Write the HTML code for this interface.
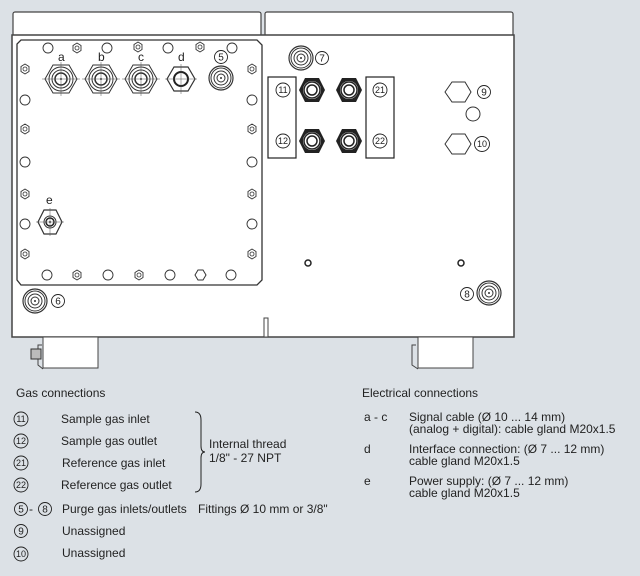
<!DOCTYPE html>
<html><head><style>
body{margin:0;background:#dce1e6;}
svg{display:block}
text{font-family:"Liberation Sans",sans-serif;fill:#222;}
.cn circle{fill:none;stroke:#222;stroke-width:0.9}
.cn text{font-size:10px;text-anchor:middle}
.cn text.s{font-size:9px}
</style></head><body>
<svg width="640" height="576" viewBox="0 0 640 576" xmlns="http://www.w3.org/2000/svg">
<defs>
<g id="hexb"><polygon points="-4,-2.5 0,-5 4,-2.5 4,2.5 0,5 -4,2.5" fill="#fff" stroke="#333" stroke-width="0.9"/><circle r="2" fill="none" stroke="#333" stroke-width="0.8"/></g>
<g id="hole"><circle r="5" fill="#fff" stroke="#333" stroke-width="0.9"/></g>
<g id="gland"><polygon points="-16,0 -8,-14 8,-14 16,0 8,14 -8,14" fill="#fff" stroke="#333" stroke-width="1"/><circle r="12" fill="none" stroke="#333"/><circle r="9" fill="none" stroke="#333"/><circle r="6" fill="none" stroke="#333" stroke-width="1.5"/><circle r="1" fill="#333"/><line x1="-19" y1="0" x2="19" y2="0" stroke="#555" stroke-width="0.5"/><line x1="0" y1="-17" x2="0" y2="17" stroke="#555" stroke-width="0.5"/></g>
<g id="fit"><circle r="12" fill="#fff" stroke="#333" stroke-width="1.2"/><circle r="10" fill="none" stroke="#333"/><circle r="7" fill="none" stroke="#333"/><circle r="4" fill="none" stroke="#333"/><circle r="1" fill="#333"/></g>
<g id="blk"><polygon points="-13,0 -7,-12 7,-12 13,0 7,12 -7,12" fill="#222"/><circle r="9" fill="#fff"/><circle r="8" fill="none" stroke="#222" stroke-width="1.5"/><circle r="5" fill="none" stroke="#222" stroke-width="1.5"/></g>
</defs>
<rect x="13" y="12" width="248" height="24" rx="2" fill="#fff" stroke="#444" stroke-width="1.2"/>
<rect x="265" y="12" width="248" height="24" rx="2" fill="#fff" stroke="#444" stroke-width="1.2"/>
<rect x="12" y="35" width="502" height="302" fill="#fff" stroke="#444" stroke-width="1.5"/>
<polygon points="21,40 257,40 262,45 262,280 257,285 21,285 17,280 17,44" fill="#fff" stroke="#333" stroke-width="1.3"/>
<use href="#hole" x="48" y="48"/><use href="#hexb" x="77" y="48"/><use href="#hole" x="107" y="48"/><use href="#hexb" x="138" y="47"/><use href="#hole" x="168" y="48"/><use href="#hexb" x="200" y="47"/><use href="#hole" x="232" y="48"/>
<use href="#hexb" x="25" y="69"/><use href="#hole" x="25" y="100"/><use href="#hexb" x="25" y="129"/><use href="#hole" x="25" y="162"/><use href="#hexb" x="25" y="194"/><use href="#hole" x="25" y="224"/><use href="#hexb" x="25" y="254"/>
<use href="#hexb" x="252" y="69"/><use href="#hole" x="252" y="100"/><use href="#hexb" x="252" y="129"/><use href="#hole" x="252" y="162"/><use href="#hexb" x="252" y="194"/><use href="#hole" x="252" y="224"/><use href="#hexb" x="252" y="254"/>
<use href="#hole" x="47" y="275"/><use href="#hexb" x="77" y="275"/><use href="#hole" x="108" y="275"/><use href="#hexb" x="139" y="275"/><use href="#hole" x="170" y="275"/><polygon points="195,275 198,270 203,270 206,275 203,280 198,280" fill="#fff" stroke="#333"/><use href="#hole" x="231" y="275"/>
<use href="#gland" x="61" y="79"/><use href="#gland" x="101" y="79"/><use href="#gland" x="141" y="79"/>
<g transform="translate(181,79)"><polygon points="-14,0 -7,-12 7,-12 14,0 7,12 -7,12" fill="#fff" stroke="#333" stroke-width="1.2"/><circle r="7" fill="none" stroke="#222" stroke-width="2"/><line x1="-16" y1="0" x2="16" y2="0" stroke="#555" stroke-width="0.5"/><line x1="0" y1="-15" x2="0" y2="15" stroke="#555" stroke-width="0.5"/></g>
<use href="#fit" x="221" y="78"/>
<g transform="translate(50,222)"><polygon points="-12,0 -6,-12 6,-12 12,0 6,12 -6,12" fill="#fff" stroke="#333" stroke-width="1.2"/><circle r="6" fill="none" stroke="#333"/><circle r="4" fill="none" stroke="#222" stroke-width="1.5"/><circle r="1" fill="#333"/><line x1="-14" y1="0" x2="14" y2="0" stroke="#555" stroke-width="0.5"/><line x1="0" y1="-14" x2="0" y2="14" stroke="#555" stroke-width="0.5"/></g>
<text x="58" y="61" font-size="12">a</text><text x="98" y="61" font-size="12">b</text><text x="138" y="61" font-size="12">c</text><text x="178" y="61" font-size="12">d</text><text x="46" y="204" font-size="12">e</text>
<use href="#fit" x="301" y="58"/>
<use href="#fit" x="35" y="301"/>
<use href="#fit" x="489" y="293"/>
<g class="cn">
<circle cx="221" cy="57" r="6.5"/><text x="221" y="60.5">5</text>
<circle cx="322" cy="58" r="6.5"/><text x="322" y="61.5">7</text>
<circle cx="283" cy="90" r="7"/><text class="s" x="283" y="93">11</text>
<circle cx="283" cy="141" r="7"/><text class="s" x="283" y="144">12</text>
<circle cx="380" cy="90" r="7"/><text class="s" x="380" y="93">21</text>
<circle cx="380" cy="141" r="7"/><text class="s" x="380" y="144">22</text>
<circle cx="484" cy="92" r="6.5"/><text x="484" y="95.5">9</text>
<circle cx="482" cy="144" r="7.5"/><text class="s" x="482" y="147">10</text>
<circle cx="58" cy="301" r="6.5"/><text x="58" y="304.5">6</text>
<circle cx="467" cy="294" r="6.5"/><text x="467" y="297.5">8</text>
<circle cx="21" cy="419" r="7"/><text class="s" x="21" y="422">11</text>
<circle cx="21" cy="441" r="7"/><text class="s" x="21" y="444">12</text>
<circle cx="21" cy="463" r="7"/><text class="s" x="21" y="466">21</text>
<circle cx="21" cy="485" r="7"/><text class="s" x="21" y="488">22</text>
<circle cx="21" cy="509" r="6.5"/><text x="21" y="512.5">5</text>
<circle cx="45" cy="509" r="6.5"/><text x="45" y="512.5">8</text>
<circle cx="21" cy="531" r="6.5"/><text x="21" y="534.5">9</text>
<circle cx="21" cy="554" r="7"/><text class="s" x="21" y="557">10</text>
</g>
<rect x="268" y="77" width="28" height="81" fill="none" stroke="#222" stroke-width="1.2"/>
<rect x="366" y="77" width="28" height="81" fill="none" stroke="#222" stroke-width="1.2"/>
<use href="#blk" x="312" y="90"/><use href="#blk" x="349" y="90"/><use href="#blk" x="312" y="141"/><use href="#blk" x="349" y="141"/>
<polygon points="445,92 452,82 465,82 471,92 465,102 452,102" fill="#fff" stroke="#333"/>
<polygon points="445,144 452,134 465,134 471,144 465,154 452,154" fill="#fff" stroke="#333"/>
<circle cx="473" cy="114" r="7" fill="#fff" stroke="#333"/>
<circle cx="308" cy="263" r="3" fill="none" stroke="#222" stroke-width="1.5"/>
<circle cx="461" cy="263" r="3" fill="none" stroke="#222" stroke-width="1.5"/>
<rect x="264" y="318" width="4" height="19" fill="#fff" stroke="#444"/>
<rect x="43" y="337" width="55" height="31" fill="#fff" stroke="#444"/>
<rect x="418" y="337" width="55" height="31" fill="#fff" stroke="#444"/>
<path d="M42,345 L38,345 L38,365 L43,369" fill="none" stroke="#444"/>
<rect x="31" y="349" width="10" height="10" fill="#bbb" stroke="#333"/>
<path d="M416,345 L412,345 L412,365 L418,369" fill="none" stroke="#444"/>
<g font-size="12">
<text x="16" y="397">Gas connections</text>
<text x="61" y="423">Sample gas inlet</text>
<text x="61" y="445">Sample gas outlet</text>
<text x="62" y="467">Reference gas inlet</text>
<text x="61" y="489">Reference gas outlet</text>
<text x="29" y="513">-</text><text x="62" y="513">Purge gas inlets/outlets</text><text x="198" y="513">Fittings Ø 10 mm or 3/8"</text>
<text x="62" y="535">Unassigned</text>
<text x="62" y="557">Unassigned</text>
<text x="209" y="448">Internal thread</text><text x="209" y="462">1/8" - 27 NPT</text>
<text x="362" y="397">Electrical connections</text>
<text x="364" y="421">a - c</text><text x="409" y="421">Signal cable (Ø 10 ... 14 mm)</text><text x="409" y="433">(analog + digital): cable gland M20x1.5</text>
<text x="364" y="453">d</text><text x="409" y="453">Interface connection: (Ø 7 ... 12 mm)</text><text x="409" y="465">cable gland M20x1.5</text>
<text x="364" y="485">e</text><text x="409" y="485">Power supply: (Ø 7 ... 12 mm)</text><text x="409" y="497">cable gland M20x1.5</text>
</g>
<path d="M195,412 Q201,412 201,420 L201,446 Q201,452 205,452 Q201,452 201,458 L201,484 Q201,492 195,492" fill="none" stroke="#222" stroke-width="1"/>
</svg>
</body></html>
